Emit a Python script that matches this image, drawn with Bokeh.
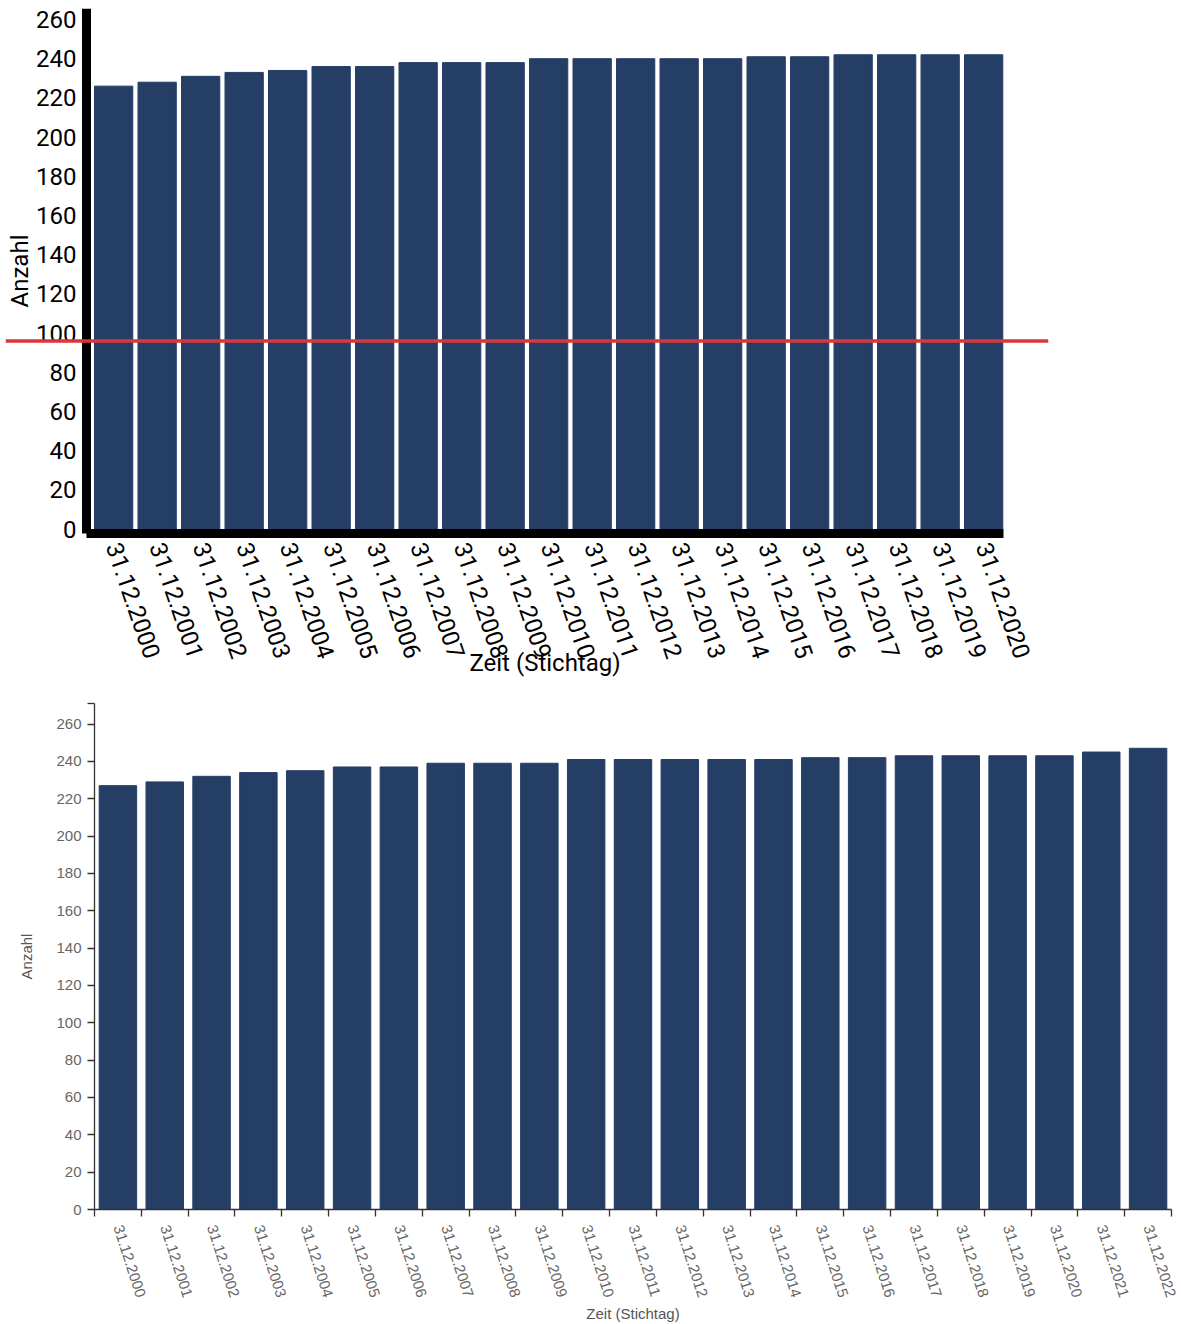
import math
from bokeh.plotting import figure
from bokeh.models import Range1d, FixedTicker, Span, Label, ColumnDataSource
from bokeh.embed import file_html
from bokeh.resources import INLINE

# ---------------- data ----------------
top_labels = ["31.12.2000", "31.12.2001", "31.12.2002", "31.12.2003", "31.12.2004",
              "31.12.2005", "31.12.2006", "31.12.2007", "31.12.2008", "31.12.2009",
              "31.12.2010", "31.12.2011", "31.12.2012", "31.12.2013", "31.12.2014",
              "31.12.2015", "31.12.2016", "31.12.2017", "31.12.2018", "31.12.2019",
              "31.12.2020"]
top_values = [226, 228, 231, 233, 234, 236, 236, 238, 238, 238, 240,
              240, 240, 240, 240, 241, 241, 242, 242, 242, 242]
threshold = 96

bottom_labels = ["31.12.2000", "31.12.2001", "31.12.2002", "31.12.2003", "31.12.2004",
                 "31.12.2005", "31.12.2006", "31.12.2007", "31.12.2008", "31.12.2009",
                 "31.12.2010", "31.12.2011", "31.12.2012", "31.12.2013", "31.12.2014",
                 "31.12.2015", "31.12.2016", "31.12.2017", "31.12.2018", "31.12.2019",
                 "31.12.2020", "31.12.2021", "31.12.2022"]
bottom_values = [227, 229, 232, 234, 235, 237, 237, 239, 239, 239, 241, 241,
                 241, 241, 241, 242, 242, 243, 243, 243, 243, 245, 247]

y_ticks = [0, 20, 40, 60, 80, 100, 120, 140, 160, 180, 200, 220, 240, 260]

BAR = "#243e66"

# ---------------- top chart ----------------
# pixel layout (style only)
T_W, T_H = 1050, 688
T_FL, T_FR = 5, 1048            # frame (red line spans whole frame width)
T_FT, T_FB = 8, 688
AX_X, AX_END = 86, 1003         # where the drawn axes start / end (x)
Y0_PX, Y_AX_PX = 528.5, 533     # pixel of value 0, pixel of x-axis line
PXU_Y = 1.9596                  # px per unit (y)
C0, STEP = 113.15, 43.5         # first bar centre, px per category
TITLE_PX = 662

x_start = -(C0 - T_FL) / STEP
x_end = (T_FR - C0) / STEP
ax_start = -(C0 - AX_X) / STEP
ax_end = (AX_END - C0) / STEP
y_start = -(T_FB - Y0_PX) / PXU_Y
y_end = (Y0_PX - T_FT) / PXU_Y
y_axis_at = -(Y_AX_PX - Y0_PX) / PXU_Y

p1 = figure(width=T_W, height=T_H,
            x_range=Range1d(x_start, x_end), y_range=Range1d(y_start, y_end),
            output_backend="svg", toolbar_location=None,
            min_border_left=T_FL, min_border_right=T_W - T_FR,
            min_border_top=T_FT, min_border_bottom=T_H - T_FB)
p1.outline_line_color = None
p1.grid.visible = False
p1.background_fill_color = "white"

src1 = ColumnDataSource(dict(x=list(range(len(top_labels))), top=top_values))
p1.vbar(x="x", top="top", width=0.88, source=src1, fill_color=BAR, line_color=BAR)

p1.add_layout(Span(location=threshold, dimension="width",
                   line_color="#d9363e", line_width=3.5))

xa = p1.xaxis[0]
xa.fixed_location = y_axis_at
xa.ticker = FixedTicker(ticks=list(range(len(top_labels))), minor_ticks=[])
xa.major_label_overrides = {i: lab for i, lab in enumerate(top_labels)}
xa.major_label_orientation = -math.radians(71)
xa.bounds = (ax_start, ax_end)
xa.major_label_standoff = 10

ya = p1.yaxis[0]
ya.fixed_location = ax_start
ya.bounds = (y_axis_at, y_end)
ya.ticker = FixedTicker(ticks=y_ticks, minor_ticks=[])
ya.axis_label = "Anzahl"
ya.axis_label_standoff = -1
ya.major_label_standoff = 10

for ax in (xa, ya):
    ax.axis_line_width = 9
    ax.axis_line_color = "black"
    ax.major_tick_line_color = None
    ax.minor_tick_line_color = None
    ax.major_tick_out = 0
    ax.major_tick_in = 0
    ax.major_label_text_font = "Roboto"
    ax.major_label_text_font_size = "24px"
    ax.major_label_text_color = "black"
    ax.axis_label_text_font = "Roboto"
    ax.axis_label_text_font_size = "24px"
    ax.axis_label_text_font_style = "normal"
    ax.axis_label_text_color = "black"

p1.add_layout(Label(x=(ax_start + ax_end) / 2, y=-(TITLE_PX - Y0_PX) / PXU_Y,
                    text="Zeit (Stichtag)", text_align="center", text_baseline="middle",
                    text_font="Roboto", text_font_size="24px", text_color="black"))

# ---------------- bottom chart ----------------
B_W, B_H = 1181, 636
B_FL, B_FR = 94, 1171
B_FT, B_FH = 15, 507
n = len(bottom_labels)

p2 = figure(width=B_W, height=B_H,
            x_range=Range1d(0, n), y_range=Range1d(0, 271),
            output_backend="svg", toolbar_location=None,
            min_border_left=B_FL, min_border_right=B_W - B_FR,
            min_border_top=B_FT, min_border_bottom=B_H - B_FT - B_FH)
p2.outline_line_color = None
p2.grid.visible = False
p2.background_fill_color = "white"

src2 = ColumnDataSource(dict(x=[i + 0.5 for i in range(n)], top=bottom_values))
p2.vbar(x="x", top="top", width=0.8, source=src2, fill_color=BAR, line_color=BAR)

xb = p2.xaxis[0]
xb.ticker = FixedTicker(ticks=[i + 0.5 for i in range(n)], minor_ticks=list(range(n + 1)))
xb.major_label_overrides = {i + 0.5: lab for i, lab in enumerate(bottom_labels)}
xb.major_label_orientation = -math.radians(72)
xb.major_tick_line_color = None
xb.major_tick_out = 0
xb.major_tick_in = 0
xb.minor_tick_out = 7
xb.minor_tick_in = 0
xb.major_label_standoff = 9
xb.axis_label = "Zeit (Stichtag)"
xb.axis_label_standoff = 2

yb = p2.yaxis[0]
yb.ticker = FixedTicker(ticks=y_ticks, minor_ticks=[271])
yb.major_tick_out = 7
yb.major_tick_in = 0
yb.minor_tick_out = 7
yb.minor_tick_in = 0
yb.major_label_standoff = 6
yb.axis_label = "Anzahl"
yb.axis_label_standoff = 18
yb.major_tick_line_color = "#333333"

for ax in (xb, yb):
    ax.axis_line_color = "#333333"
    ax.axis_line_width = 1.3
    ax.major_tick_line_width = 1.3
    ax.minor_tick_line_color = "#333333"
    ax.minor_tick_line_width = 1.3
    ax.major_label_text_font = "Liberation Sans"
    ax.major_label_text_font_size = "15px"
    ax.major_label_text_color = "#666666"
    ax.axis_label_text_font = "Liberation Sans"
    ax.axis_label_text_font_size = "15px"
    ax.axis_label_text_font_style = "normal"
    ax.axis_label_text_color = "#555555"

open("out.html", "w").write(file_html([p1, p2], INLINE))
